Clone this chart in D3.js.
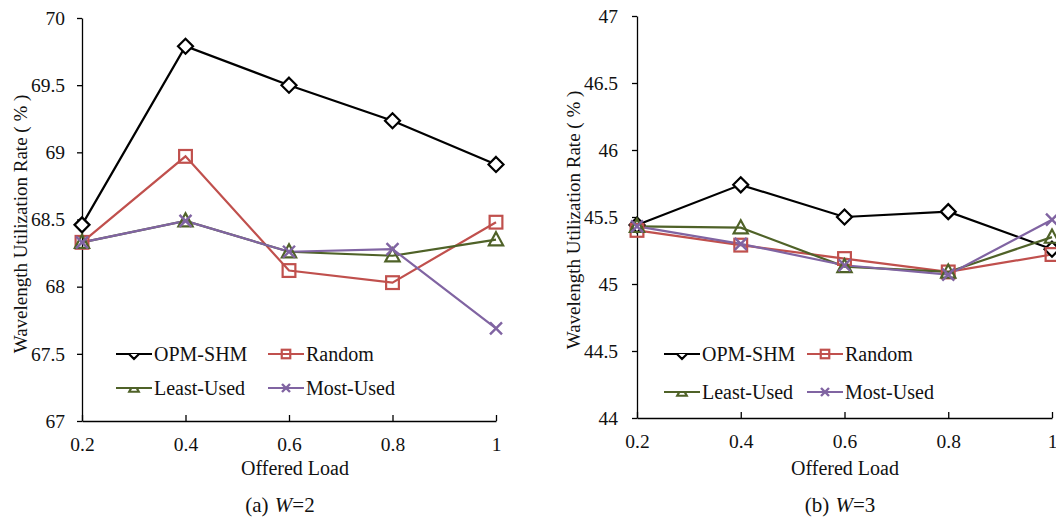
<!DOCTYPE html>
<html lang="en">
<head>
<meta charset="UTF-8">
<title>Wavelength Utilization Rate</title>
<script src="https://d3js.org/d3.v7.min.js"></script>
<style>
    body { margin: 0; background: #fff; }
    svg { display: block; }
    svg text { font-family: 'Liberation Serif', 'Times New Roman', serif; fill: #111; }
</style>
</head>
<body>
<svg id="chart"></svg>
<script>
// data
const loads = [0.2, 0.4, 0.6, 0.8, 1];
const seriesNames = ["OPM-SHM", "Random", "Least-Used", "Most-Used"];

const w2OPM   = [68.46, 69.79, 69.50, 69.235, 68.91];
const w2Rand  = [68.33, 68.97, 68.12, 68.03, 68.48];
const w2Least = [68.33, 68.49, 68.26, 68.23, 68.35];
const w2Most  = [68.33, 68.49, 68.26, 68.28, 67.69];

const w3OPM   = [45.44, 45.74, 45.50, 45.54, 45.26];
const w3Rand  = [45.40, 45.29, 45.19, 45.09, 45.22];
const w3Least = [45.43, 45.42, 45.13, 45.09, 45.35];
const w3Most  = [45.43, 45.30, 45.14, 45.07, 45.48];

const w2Ticks = [67, 67.5, 68, 68.5, 69, 69.5, 70];
const w3Ticks = [44, 44.5, 45, 45.5, 46, 46.5, 47];
const xTicks = [0.2, 0.4, 0.6, 0.8, 1];

const colors = ["#000000", "#C0504D", "#4F6228", "#8064A2"];
const shapes = ["diamond", "square", "triangle", "cross"];

const width = 1056, height = 517;
const svg = d3.select("#chart").attr("width", width).attr("height", height);

svg.append("defs").append("clipPath").attr("id", "lowerHalf")
    .append("rect").attr("x", -8).attr("y", 0).attr("width", 16).attr("height", 8);

function marker(g, shape, color, r) {
    if (shape === "diamond") {
        g.append("path").attr("d", `M0,${-r}L${r},0L0,${r}L${-r},0Z`)
            .attr("fill", "#fff").attr("stroke", color).attr("stroke-width", 2.2);
    } else if (shape === "square") {
        g.append("rect").attr("x", -r * 0.85).attr("y", -r * 0.85)
            .attr("width", r * 1.7).attr("height", r * 1.7)
            .attr("fill", "none").attr("stroke", color).attr("stroke-width", 2.2);
    } else if (shape === "triangle") {
        g.append("path").attr("d", `M0,${-r}L${r * 0.95},${r * 0.75}L${-r * 0.95},${r * 0.75}Z`)
            .attr("fill", "none").attr("stroke", color).attr("stroke-width", 2.2);
    } else {
        const k = r * 0.8;
        g.append("path").attr("d", `M${-k},${-k}L${k},${k}M${-k},${k}L${k},${-k}`)
            .attr("stroke", color).attr("stroke-width", 2.4);
    }
}

function drawPanel(opt) {
    const x = d3.scaleLinear().domain([0.2, 1]).range([opt.left, opt.right]);
    const y = d3.scaleLinear().domain([opt.ticks[0], opt.ticks[opt.ticks.length - 1]])
        .range([opt.bottom, opt.top]);
    const g = svg.append("g");

    // y axis
    const yAxis = g.append("g").attr("transform", `translate(${opt.left},0)`)
        .call(d3.axisLeft(y).tickValues(opt.ticks).tickSize(5).tickSizeOuter(0).tickFormat(d3.format("")));
    // x axis, ticks point inward
    const xAxis = g.append("g").attr("transform", `translate(0,${opt.bottom})`)
        .call(d3.axisBottom(x).tickValues(xTicks).tickSizeInner(-6).tickSizeOuter(0).tickFormat(d3.format("")));
    [yAxis, xAxis].forEach(a => {
        a.attr("font-family", null);
        a.selectAll("path.domain").attr("stroke", "#000").attr("stroke-width", 1.3);
        a.selectAll(".tick line").attr("stroke", "#000").attr("stroke-width", 1.3);
        a.selectAll("text").style("font-size", "19.5px");
    });
    yAxis.selectAll("text").attr("x", opt.yLabelGap);
    xAxis.selectAll("text").attr("y", 16);

    // series
    const line = d3.line().x((d, i) => x(loads[i])).y(d => y(d));
    opt.series.forEach((vals, s) => {
        g.append("path").datum(vals).attr("d", line)
            .attr("fill", "none").attr("stroke", colors[s]).attr("stroke-width", 2.2);
    });
    opt.series.forEach((vals, s) => {
        vals.forEach((v, i) => {
            const m = g.append("g").attr("transform", `translate(${x(loads[i])},${y(v)})`);
            marker(m, shapes[s], colors[s], 7.5);
        });
    });

    // legend
    seriesNames.forEach((name, s) => {
        const col = s % 2, row = Math.floor(s / 2);
        const lg = g.append("g").attr("transform", `translate(${opt.legendX[col]},${opt.legendY[row]})`);
        lg.append("line").attr("x1", 0).attr("x2", 36).attr("y1", 0).attr("y2", 0)
            .attr("stroke", colors[s]).attr("stroke-width", 2.2);
        const m = lg.append("g").attr("transform", "translate(18,0)");
        if (shapes[s] === "diamond" || shapes[s] === "triangle") m.attr("clip-path", "url(#lowerHalf)");
        marker(m, shapes[s], colors[s], 5);
        lg.append("text").attr("x", 38).attr("y", 7).style("font-size", "20px").text(name);
    });

    // titles
    g.append("text").attr("transform", `translate(${opt.yTitleX},${opt.yTitleY}) rotate(-90)`)
        .attr("text-anchor", "middle").style("font-size", "19px")
        .text("Wavelength Utilization Rate ( % )");
    g.append("text").attr("x", opt.xTitleX).attr("y", 475)
        .attr("text-anchor", "middle").style("font-size", "20px").text("Offered Load");
    const cap = g.append("text").attr("x", opt.captionX).attr("y", 512)
        .attr("text-anchor", "middle").style("font-size", "21px").attr("xml:space", "preserve");
    cap.append("tspan").text(opt.caption[0] + " ");
    cap.append("tspan").attr("dx", 1).style("font-style", "italic").text("W");
    cap.append("tspan").text("=" + opt.caption[1]);
}

drawPanel({
    left: 82, right: 496, top: 18, bottom: 421,
    ticks: w2Ticks, series: [w2OPM, w2Rand, w2Least, w2Most],
    legendX: [116, 268], legendY: [354, 388],
    yLabelGap: -17, yTitleX: 27, yTitleY: 224,
    xTitleX: 295, captionX: 280,
    caption: ["(a)", "2"]
});
drawPanel({
    left: 637, right: 1052, top: 16, bottom: 418,
    ticks: w3Ticks, series: [w3OPM, w3Rand, w3Least, w3Most],
    legendX: [664, 807], legendY: [354, 392],
    yLabelGap: -19, yTitleX: 580, yTitleY: 220,
    xTitleX: 845, captionX: 840,
    caption: ["(b)", "3"]
});
</script>
</body>
</html>
